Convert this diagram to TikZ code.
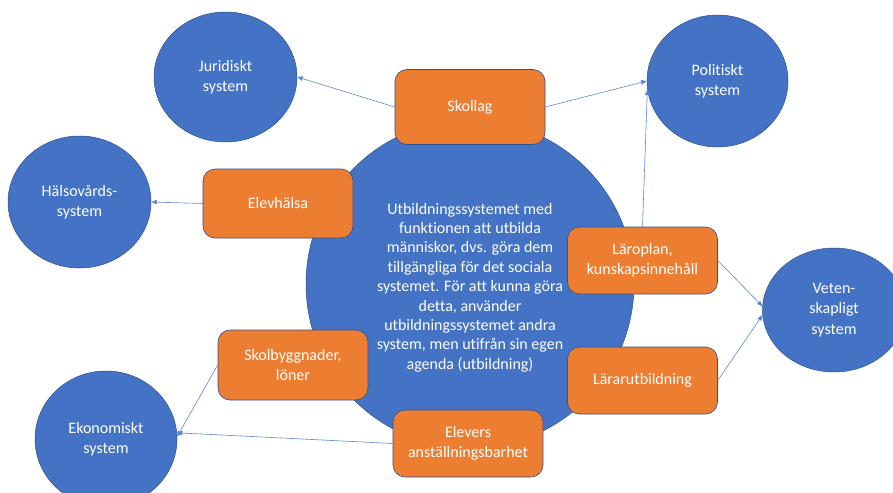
\documentclass[tikz,border=0pt]{standalone}
\usepackage{fontspec}
\setmainfont[Ligatures=NoCommon]{Carlito}
\usetikzlibrary{shapes.geometric,arrows.meta}
\definecolor{sysblue}{HTML}{4472C4}
\definecolor{sysorange}{HTML}{ED7D31}
\definecolor{edgeblue}{HTML}{2F528F}
\begin{document}
\begin{tikzpicture}[x=1pt,y=-1pt,
  label font/.style={font=\fontsize{16}{20.3}\selectfont},
  sys/.style={ellipse, draw=edgeblue, line width=0.5pt, fill=sysblue,
    text=white, label font, align=center, inner sep=0pt},
  part/.style={rectangle, rounded corners=12pt, draw=edgeblue, line width=0.6pt,
    fill=sysorange, text=white, label font, align=center, inner sep=0pt,
    minimum width=150pt},
  link/.style={draw=sysblue!85, line width=0.6pt,
    -{Triangle[length=5.5pt,width=4.5pt]}}]
\clip (0,0) rectangle (893,492);
\fill[white] (0,0) rectangle (893,492);

% central system
\node[circle, draw=edgeblue, line width=0.5pt, fill=sysblue,
  minimum size=328pt, inner sep=0pt] (edu) at (470,284) {};
\node[text=white, font=\fontsize{16}{19.4}\selectfont, align=center,
  inner sep=0pt] (edutext) at (470,287.5)
  {Utbildningssystemet med\\funktionen att utbilda\\människor, dvs. göra dem\\
   tillgängliga för det sociala\\systemet. För att kunna göra\\detta, använder\\
   utbildningssystemet andra\\system, men utifrån sin egen\\agenda (utbildning)};

% surrounding systems
\node[sys, minimum width=143pt, minimum height=130pt] (jur) at (225.5,77) {Juridiskt\\system};
\node[sys, minimum width=141pt, minimum height=132pt] (pol) at (717.5,81) {Politiskt\\system};
\node[sys, minimum width=143pt, minimum height=132pt] (hal) at (79.5,202) {Hälsovårds-\\system};
\node[sys, minimum width=143pt, minimum height=124pt] (vet) at (834,310) {Veten-\\skapligt\\system};
\node[sys, minimum width=142pt, minimum height=136pt] (eko) at (106,439) {Ekonomiskt\\system};

% interfaces
\node[part, minimum height=75pt] (skollag) at (470,107) {Skollag};
\node[part, minimum height=69pt] (elev) at (278,203.5) {Elevhälsa};
\node[part, minimum height=67pt] (laro) at (642.5,260.5) {Läroplan,\\kunskapsinnehåll};
\node[part, minimum height=67pt] (larar) at (642.5,380.5) {Lärarutbildning};
\node[part, minimum height=70pt] (skolb) at (293,365) {Skolbyggnader,\\löner};
\node[part, minimum height=67pt] (elevers) at (468,443.5) {Elevers\\anställningsbarhet};

% links to the other systems
\draw[link] (skollag.east) -- (pol.180);
\draw[link] (laro.north) -- (pol.187);
\draw[link] (skollag.west) -- (jur.east);
\draw[link] (elev.west) -- (hal.east);
\draw[link] (laro.east) -- (vet.177);
\draw[link] (larar.east) -- (vet.184);
\draw[link] (skolb.west) -- (eko.2);
\draw[link] (elevers.west) -- (eko.5);
\end{tikzpicture}
\end{document}
